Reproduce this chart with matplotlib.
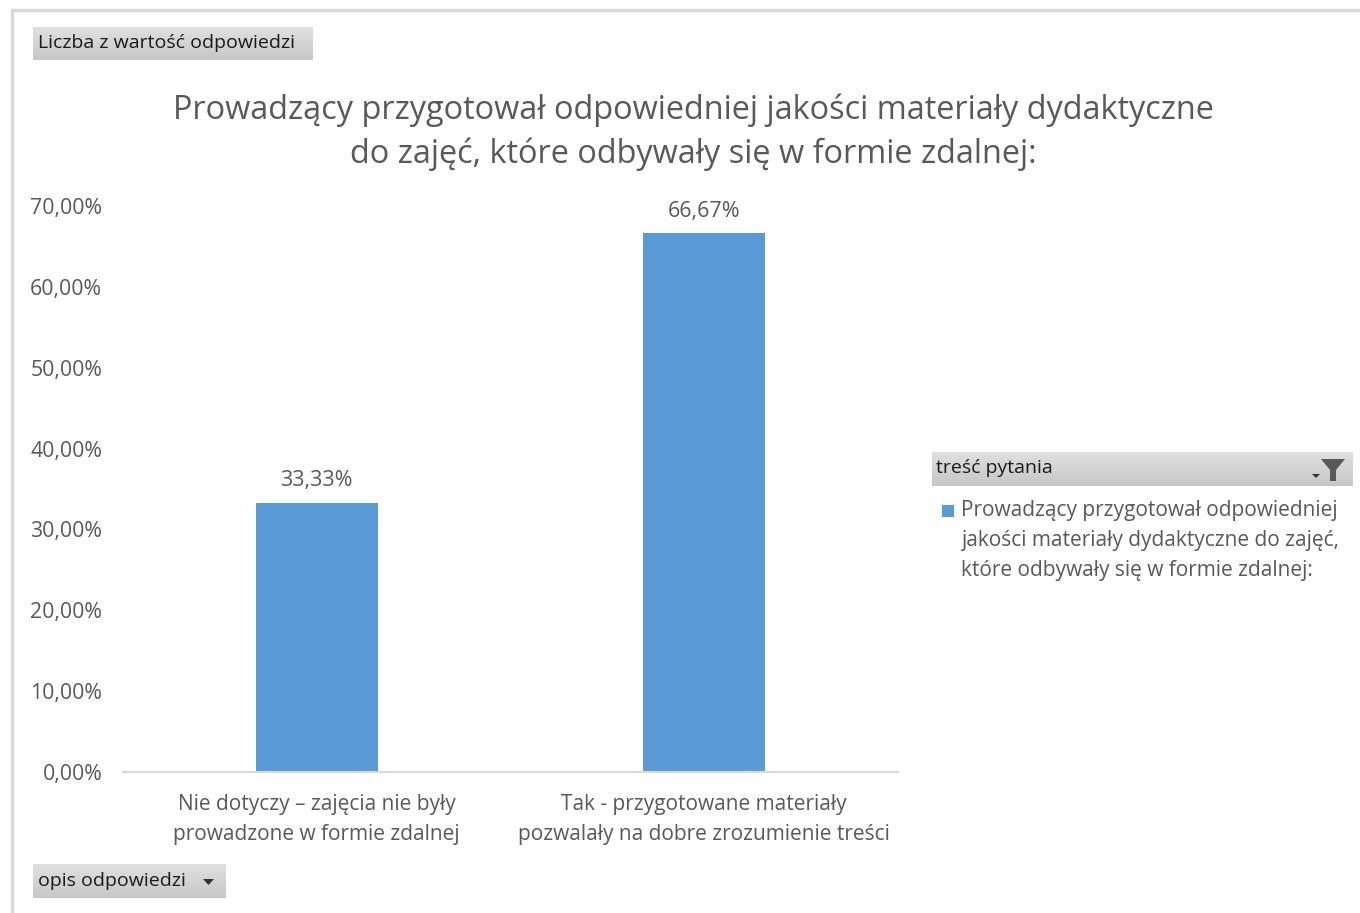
import matplotlib
matplotlib.use("Agg")
import matplotlib.pyplot as plt
from matplotlib.patches import Rectangle, Polygon
import numpy as np

categories = ["Nie dotyczy – zajęcia nie były\nprowadzone w formie zdalnej",
              "Tak - przygotowane materiały\npozwalały na dobre zrozumienie treści"]
values = [33.33, 66.67]
value_labels = ["33,33%", "66,67%"]
yticks = [0, 10, 20, 30, 40, 50, 60, 70]
ytick_labels = ["0,00%", "10,00%", "20,00%", "30,00%", "40,00%", "50,00%", "60,00%", "70,00%"]
title = "Prowadzący przygotował odpowiedniej jakości materiały dydaktyczne\ndo zajęć, które odbywały się w formie zdalnej:"
legend_title = "treść pytania"
legend_label = "Prowadzący przygotował odpowiedniej\njakości materiały dydaktyczne do zajęć,\nktóre odbywały się w formie zdalnej:"
top_button = "Liczba z wartość odpowiedzi"
bottom_button = "opis odpowiedzi"

plt.rcParams['font.family'] = ['Open Sans', 'DejaVu Sans']
W, H = 1360, 913
fig = plt.figure(figsize=(W/100, H/100), dpi=100)
TXT = "#595959"
BAR = "#5B9BD5"

def fx(x): return x / W
def fy(y): return 1 - y / H

# outer border
fig.patches.append(Rectangle((fx(12), fy(915)), fx(1360-12+5), (915-10)/H, transform=fig.transFigure,
                             fill=False, edgecolor="#D9D9D9", linewidth=2.5))

ax = fig.add_axes([fx(123), fy(772), fx(898-123), (772-206)/H])
x = np.arange(len(categories))
ax.bar(x, values, width=0.315, color=BAR)
ax.set_xlim(-0.5, 1.5)
ax.set_ylim(0, 70)
ax.set_yticks(yticks)
ax.set_yticklabels(ytick_labels, fontsize=15.3, color=TXT)
ax.set_xticks(x)
ax.set_xticklabels(categories, fontsize=15, color=TXT, linespacing=1.6)
ax.tick_params(axis='both', length=0)
ax.tick_params(axis='y', pad=15)
ax.tick_params(axis='x', pad=15.5)
for s in ['top', 'right', 'left']:
    ax.spines[s].set_visible(False)
ax.spines['bottom'].set_color("#D9D9D9")
ax.spines['bottom'].set_linewidth(1.5)
for xi, v, lab in zip(x, values, value_labels):
    ax.annotate(lab, (xi, v), xytext=(0, 8), textcoords="offset points", ha="center", va="bottom",
                fontsize=15.5, color=TXT)

fig.text(fx(693), fy(132), title, ha="center", va="center", fontsize=23.4, color=TXT, linespacing=1.4)

def button(x0, y0, x1, y1):
    axb = fig.add_axes([fx(x0), fy(y1), fx(x1 - x0), (y1 - y0)/H])
    grad = np.linspace(0.88, 0.78, 50).reshape(-1, 1)
    axb.imshow(np.dstack([grad]*3), aspect='auto', extent=[0, 1, 0, 1], origin='upper')
    axb.set_xlim(0, 1); axb.set_ylim(0, 1)
    axb.axis('off')
    return axb

button(33, 27, 313, 60)
fig.text(fx(38), fy(43), top_button, ha="left", va="center", fontsize=14, color="#1a1a1a")
button(33, 864, 226, 898)
fig.text(fx(38), fy(881), bottom_button, ha="left", va="center", fontsize=14, color="#1a1a1a")
fig.patches.append(Polygon([(fx(203), fy(879)), (fx(214), fy(879)), (fx(208.5), fy(885))],
                           closed=True, transform=fig.transFigure, facecolor="#333333", edgecolor="none"))
button(932, 452, 1353, 486)
fig.text(fx(936), fy(468), legend_title, ha="left", va="center", fontsize=14, color="#1a1a1a")
# funnel icon
fig.patches.append(Polygon([(fx(1321), fy(459)), (fx(1345), fy(459)), (fx(1336), fy(470)),
                            (fx(1336), fy(481)), (fx(1330), fy(481)), (fx(1330), fy(470))],
                           closed=True, transform=fig.transFigure, facecolor="#595959", edgecolor="none"))
fig.patches.append(Polygon([(fx(1312), fy(474)), (fx(1320), fy(474)), (fx(1316), fy(478))],
                           closed=True, transform=fig.transFigure, facecolor="#333333", edgecolor="none"))

# legend
fig.patches.append(Rectangle((fx(942), fy(517)), fx(12), 12/H, transform=fig.transFigure,
                             facecolor=BAR, edgecolor="none"))
fig.text(fx(961), fy(500), legend_label, ha="left", va="top", fontsize=15, color=TXT,
         linespacing=1.55)

fig.savefig("out.png", dpi=100, facecolor="white")
